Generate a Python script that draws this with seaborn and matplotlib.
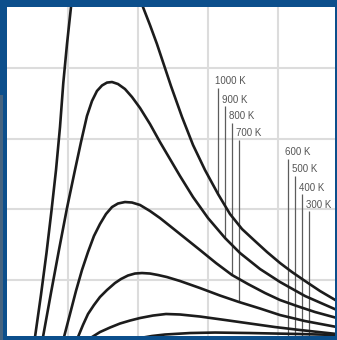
import matplotlib
matplotlib.use("Agg")
import matplotlib.pyplot as plt
from matplotlib.patches import Rectangle
import seaborn as sns
import pandas as pd

# ---- data (wavelength and intensity in grid units)
temperatures = ["1000 K", "900 K", "800 K", "700 K", "600 K", "500 K", "400 K", "300 K"]

x_1000 = [0.500, 0.529, 0.614, 0.693, 0.764, 0.829, 0.886, 0.933, 0.986, 1.043, 1.114, 1.243,
          1.429, 1.629, 1.814, 1.957, 2.071, 2.171, 2.271, 2.371, 2.471, 2.629, 2.786, 2.957,
          3.143, 3.314, 3.486, 3.671, 3.843, 4.029, 4.200, 4.386, 4.600, 4.843]
y_1000 = [0.000, 0.184, 0.780, 1.376, 1.972, 2.553, 3.163, 3.787, 4.340, 4.865, 5.390, 6.099,
          6.440, 6.241, 5.745, 5.248, 4.865, 4.610, 4.340, 4.043, 3.745, 3.305, 2.908, 2.553,
          2.213, 1.929, 1.716, 1.546, 1.390, 1.234, 1.106, 0.979, 0.837, 0.695]

x_900 = [0.610, 0.643, 0.757, 0.871, 0.986, 1.100, 1.186, 1.271, 1.343, 1.414, 1.486, 1.557,
         1.629, 1.714, 1.814, 1.914, 2.029, 2.171, 2.314, 2.457, 2.600, 2.786, 3.000, 3.243,
         3.457, 3.743, 4.029, 4.386, 4.843]
y_900 = [0.000, 0.184, 0.809, 1.418, 2.014, 2.553, 2.950, 3.319, 3.532, 3.674, 3.752, 3.793,
         3.801, 3.773, 3.702, 3.589, 3.433, 3.206, 2.950, 2.709, 2.468, 2.170, 1.872, 1.589,
         1.376, 1.149, 0.965, 0.766, 0.567]

x_800 = [0.886, 0.943, 1.029, 1.114, 1.200, 1.286, 1.371, 1.457, 1.543, 1.629, 1.714, 1.814,
         1.914, 2.029, 2.171, 2.314, 2.457, 2.671, 2.886, 3.114, 3.343, 3.571, 3.814, 4.029,
         4.271, 4.529, 4.843]
y_800 = [0.000, 0.184, 0.511, 0.837, 1.135, 1.390, 1.617, 1.787, 1.929, 2.028, 2.078, 2.099,
         2.092, 2.057, 1.972, 1.872, 1.759, 1.589, 1.418, 1.234, 1.064, 0.936, 0.809, 0.709,
         0.624, 0.539, 0.454]

x_700 = [1.057, 1.143, 1.214, 1.286, 1.371, 1.457, 1.557, 1.671, 1.757, 1.857, 1.957, 2.057,
         2.171, 2.286, 2.414, 2.600, 2.886, 3.171, 3.443, 3.743, 4.029, 4.386, 4.843]
y_700 = [0.000, 0.184, 0.355, 0.511, 0.638, 0.752, 0.851, 0.950, 1.007, 1.057, 1.085, 1.092,
         1.085, 1.064, 1.035, 0.979, 0.879, 0.773, 0.681, 0.589, 0.496, 0.411, 0.326]

x_600 = [1.200, 1.257, 1.343, 1.457, 1.600, 1.743, 1.886, 2.029, 2.214, 2.400, 2.600, 2.886,
         3.243, 3.600, 3.957, 4.314, 4.843]
y_600 = [0.000, 0.085, 0.184, 0.255, 0.319, 0.376, 0.418, 0.454, 0.489, 0.511, 0.504, 0.475,
         0.426, 0.376, 0.326, 0.284, 0.227]

x_500 = [1.743, 1.886, 2.029, 2.200, 2.386, 2.743, 3.100, 3.600, 4.314, 4.843]
y_500 = [0.000, 0.099, 0.170, 0.199, 0.220, 0.241, 0.248, 0.241, 0.227, 0.213]

x_400 = [2.31, 2.89, 3.71, 4.84]
y_400 = [0.00, 0.04, 0.06, 0.05]

x_300 = [3.17, 4.31, 4.84]
y_300 = [0.00, 0.01, 0.01]

# label leader lines: x position, top and bottom
label_x = [3.14, 3.24, 3.34, 3.44, 4.14, 4.24, 4.34, 4.44]
label_top = [3.72, 3.46, 3.22, 2.98, 2.71, 2.47, 2.21, 1.97]
label_bottom = [2.20, 1.58, 1.06, 0.69, 0.0, 0.0, 0.0, 0.0]

grid_ticks = [1, 2, 3, 4]

series_x = [x_1000, x_900, x_800, x_700, x_600, x_500, x_400, x_300]
series_y = [y_1000, y_900, y_800, y_700, y_600, y_500, y_400, y_300]

rows = []
for t, xs, ys in zip(temperatures, series_x, series_y):
    for xv, yv in zip(xs, ys):
        rows.append({"temperature": t, "wavelength": xv, "intensity": yv})
df = pd.DataFrame(rows)

sns.set_theme(style="white")
plt.rcParams["font.family"] = ["Liberation Sans", "DejaVu Sans"]

border = "#0c4f8c"
fig = plt.figure(figsize=(3.37, 3.40), dpi=100, facecolor=border)
fig.patches.append(Rectangle((0, 0), 3 / 337, 245 / 340, transform=fig.transFigure,
                             facecolor="#45637f", edgecolor="none", zorder=0))
ax = fig.add_axes([7 / 337, 4 / 340, 328 / 337, 329 / 340])
ax.set_facecolor("white")

ax.set_xticks(grid_ticks)
ax.set_yticks(grid_ticks)
ax.grid(True, color="#dcdcdc", linewidth=1.5)
ax.set_axisbelow(True)
ax.tick_params(length=0, labelbottom=False, labelleft=False)
for s in ax.spines.values():
    s.set_visible(False)

sns.lineplot(data=df, x="wavelength", y="intensity", hue="temperature",
             hue_order=temperatures, palette=["#1c1c1c"] * len(temperatures),
             estimator=None, sort=False, legend=False, linewidth=1.9, ax=ax,
             solid_joinstyle="round", solid_capstyle="round")

ax.vlines(label_x, label_bottom, label_top, colors="#5c5c5c", linewidth=0.9, zorder=1)
for t, lx, lt in zip(temperatures, label_x, label_top):
    ax.text(lx - 0.045, lt + 0.05, t, fontsize=7, color="#555555",
            ha="left", va="baseline")

ax.set_xlim(0.129, 4.814)
ax.set_ylim(0.199, 4.865)
ax.set_xlabel("")
ax.set_ylabel("")

fig.savefig("out.png", dpi=100, facecolor=border)
